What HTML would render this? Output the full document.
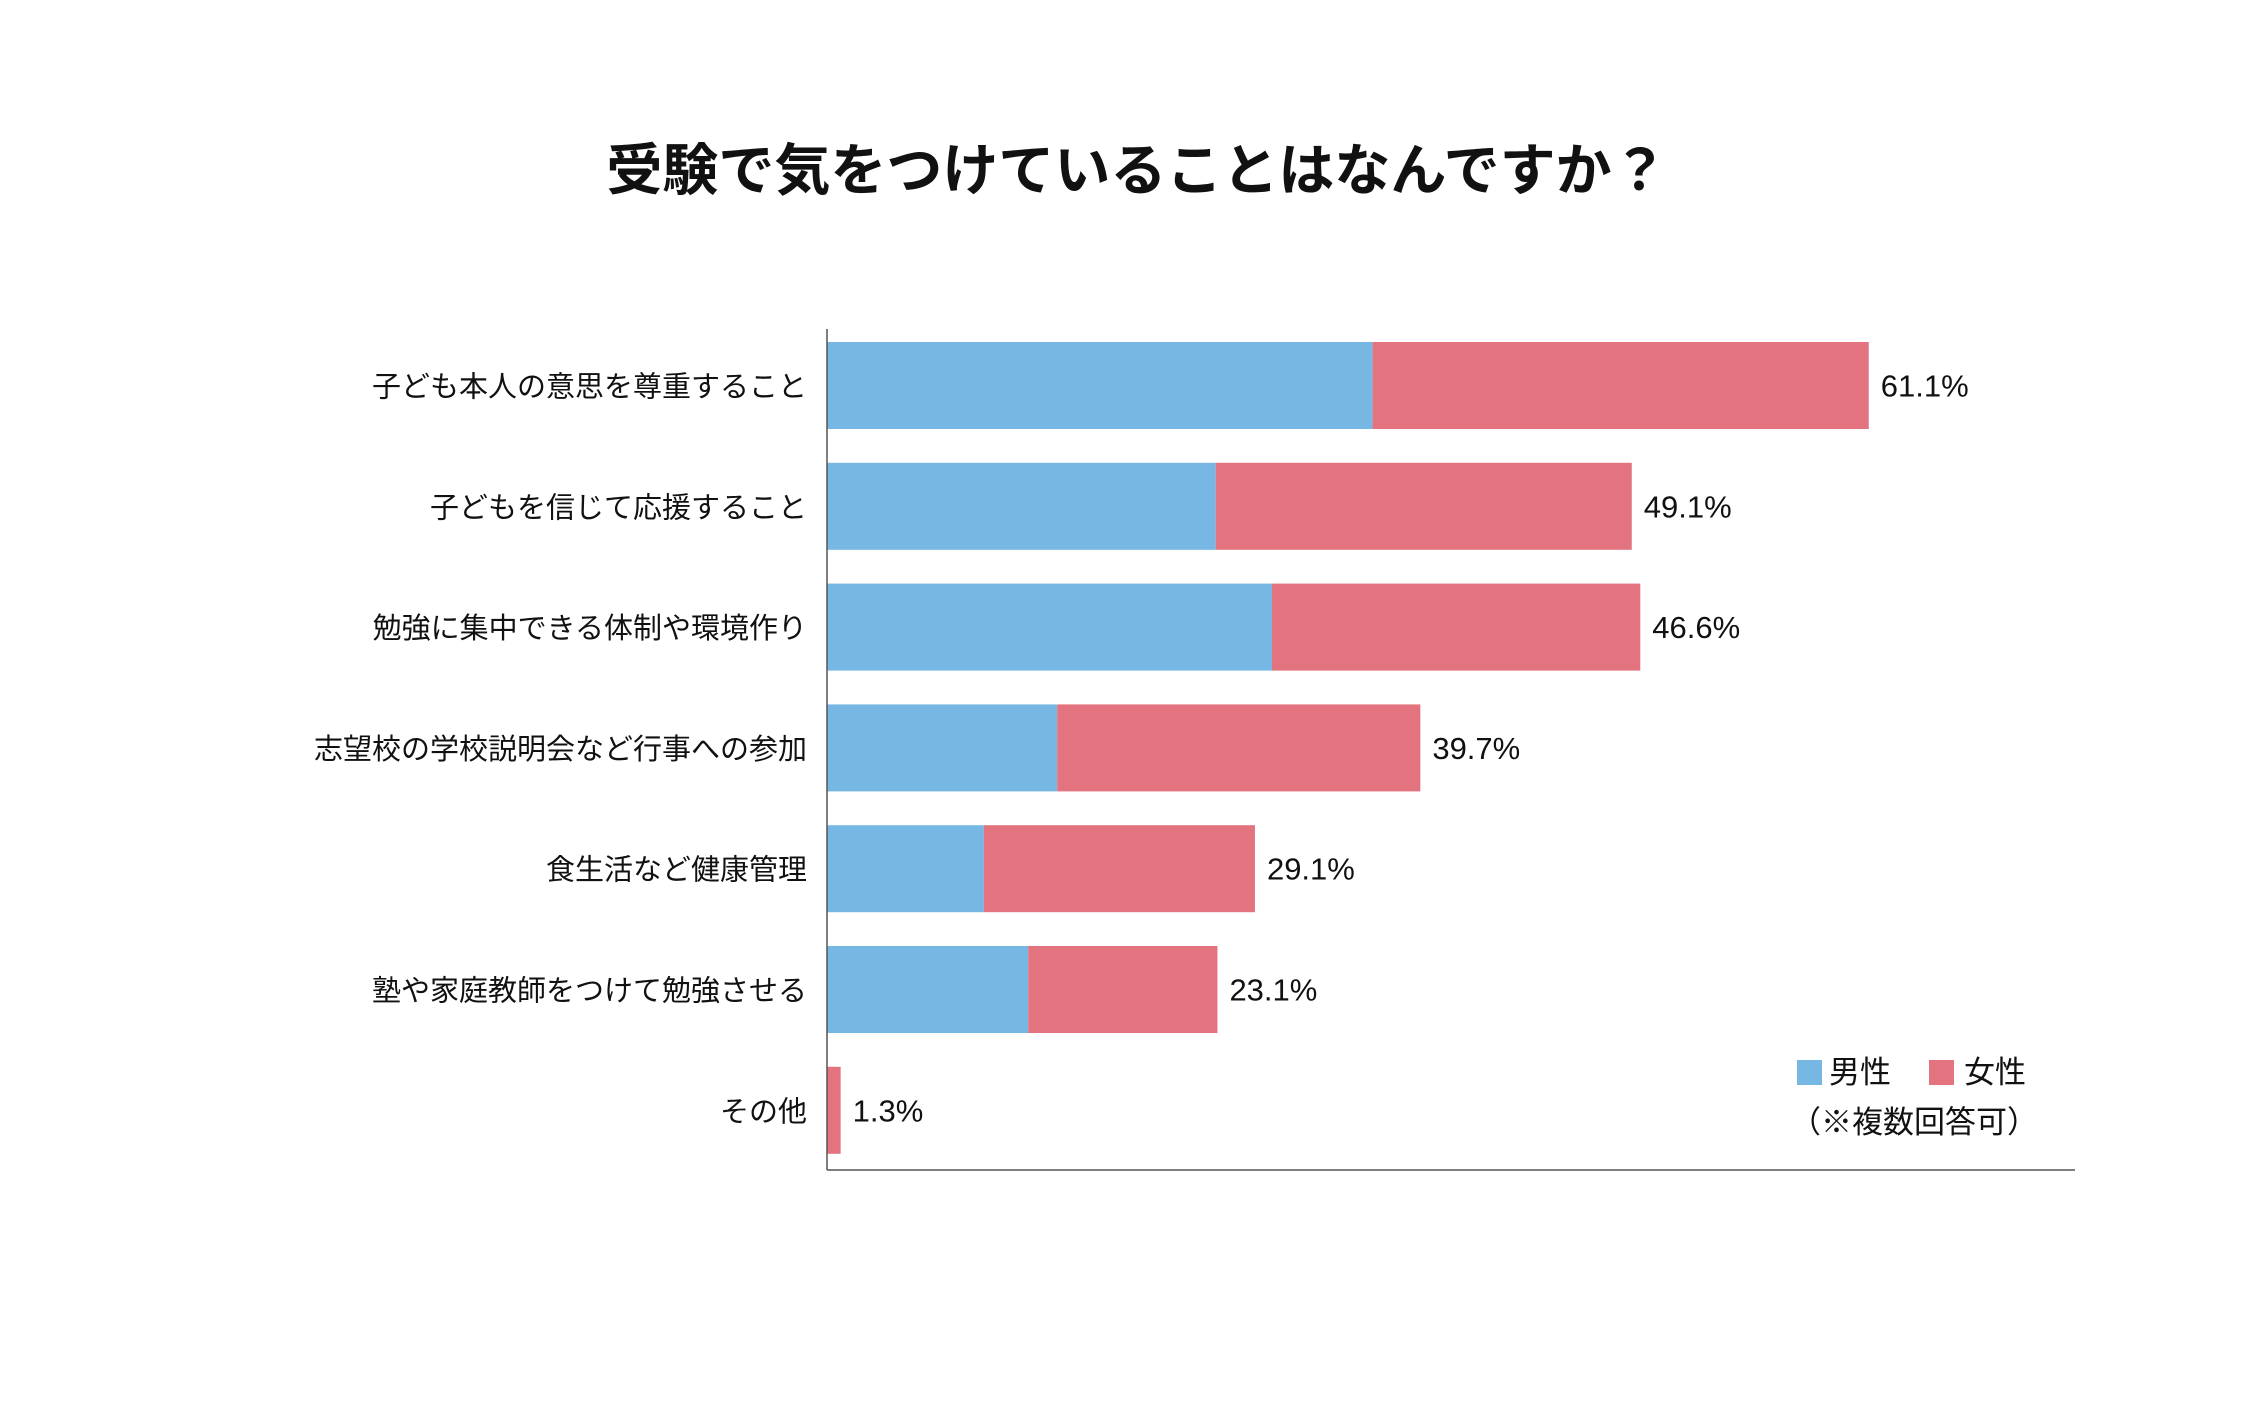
<!DOCTYPE html>
<html><head><meta charset="utf-8">
<style>
body{margin:0;background:#fff;}
svg text{font-family:"Liberation Sans","Noto Sans CJK JP",sans-serif;fill:#111;}
</style></head>
<body>
<svg width="2268" height="1417" viewBox="0 0 2268 1417" xmlns="http://www.w3.org/2000/svg">
<rect width="2268" height="1417" fill="#fff"/>
<text x="1137" y="190" text-anchor="middle" font-size="56" font-weight="bold">受験で気をつけていることはなんですか？</text>
<g id="bars"></g>
<line x1="827" y1="329" x2="827" y2="1170" stroke="#555" stroke-width="1.5"/>
<line x1="827" y1="1170" x2="2075" y2="1170" stroke="#555" stroke-width="1.5"/>
<g>
<rect x="1797" y="1060" width="25" height="25" fill="#77b7e4"/>
<text x="1829" y="1083" font-size="31">男性</text>
<rect x="1929" y="1060" width="25" height="25" fill="#e3737e"/>
<text x="1964" y="1083" font-size="31">女性</text>
<text x="1790" y="1133" font-size="31">（※複数回答可）</text>
</g>
</svg>
<script>
const categories=["子ども本人の意思を尊重すること","子どもを信じて応援すること","勉強に集中できる体制や環境作り","志望校の学校説明会など行事への参加","食生活など健康管理","塾や家庭教師をつけて勉強させる","その他"];
const maleValues=[32.0,22.8,26.1,13.5,9.2,11.8,0];
const femaleValues=[29.1,24.4,21.6,21.3,15.9,11.1,0.8];
const valueLabels=["61.1%","49.1%","46.6%","39.7%","29.1%","23.1%","1.3%"];

const x0=827, pxPerUnit=17.05, top0=342, pitch=120.8, barH=87;
const xScale=v=>v*pxPerUnit;
const yScale=i=>top0+i*pitch;
const NS="http://www.w3.org/2000/svg";
const g=document.getElementById('bars');
function mk(tag,attrs){const e=document.createElementNS(NS,tag);for(const k in attrs)e.setAttribute(k,attrs[k]);return e;}
categories.forEach((c,i)=>{
  const y=yScale(i);
  const wm=xScale(maleValues[i]), wf=xScale(femaleValues[i]);
  const rm=mk('rect',{x:x0,y:y,width:wm,height:barH,fill:'#77b7e4'});
  
  
  g.appendChild(rm);
  const rf=mk('rect',{x:x0+wm,y:y,width:wf,height:barH,fill:'#e3737e'});
  
  
  g.appendChild(rf);
  const lab=mk('text',{x:807,y:y+barH/2+11,'text-anchor':'end','font-size':'29'});
  lab.textContent=c;
  
  
  g.appendChild(lab);
  const val=mk('text',{x:x0+wm+wf+12,y:y+barH/2+11,'font-size':'31'});
  val.textContent=valueLabels[i];
  
  
  g.appendChild(val);
});
</script>
</body></html>
